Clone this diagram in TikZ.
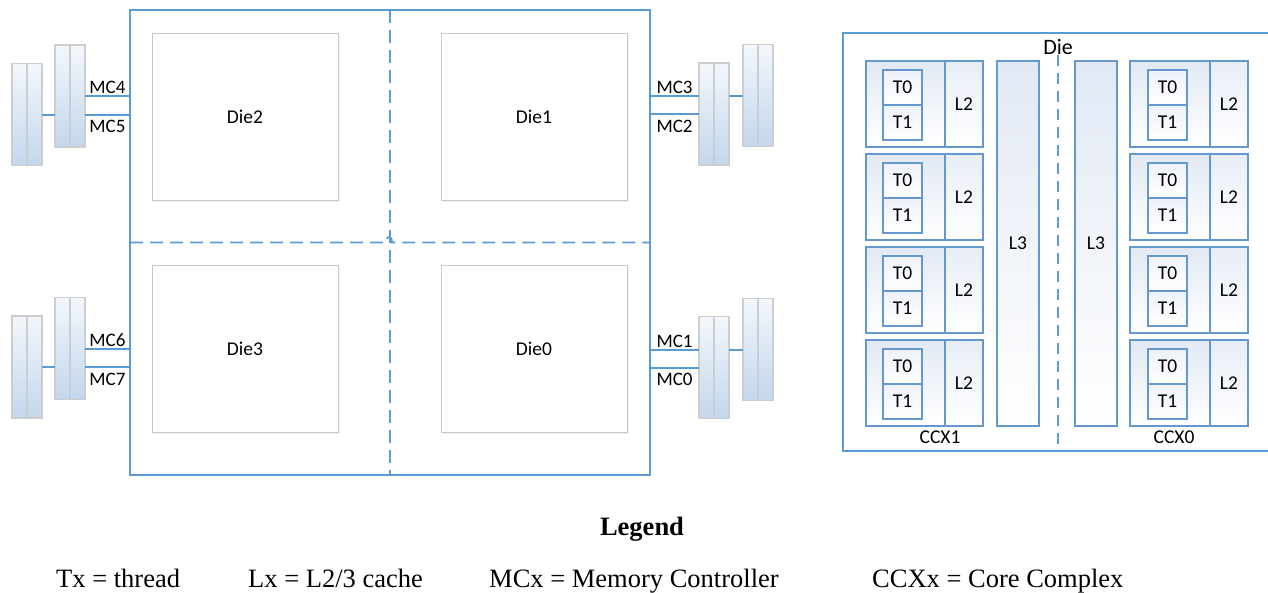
\documentclass[tikz,border=0pt]{standalone}
\usepackage{fontspec}
\setmainfont{Liberation Serif}
\newfontfamily\labelfont{Carlito}
\usetikzlibrary{positioning,shadows}

\definecolor{pkgblue}{RGB}{91,155,213}
\definecolor{dimmtop}{RGB}{243,247,252}
\definecolor{dimmbot}{RGB}{194,215,237}
\definecolor{dimmedge}{RGB}{205,205,205}
\definecolor{dieedge}{RGB}{200,200,200}
\definecolor{coretop}{RGB}{226,233,244}
\definecolor{coreedge}{RGB}{100,152,206}

\begin{document}
\begin{tikzpicture}[x=1pt,y=-1pt]

\tikzset{
  pkgbox/.style={draw=pkgblue,line width=1.6pt,inner sep=0,outer sep=0},
  dashline/.style={draw=pkgblue,line width=1.8pt,dash pattern=on 13pt off 7pt},
  mcline/.style={draw=pkgblue,line width=2pt},
  mclabel/.style={font=\labelfont\fontsize{19}{22}\selectfont,inner sep=1pt},
  diebox/.style={draw=dieedge,fill=white,line width=0.8pt,minimum width=186pt,minimum height=167pt,
    drop shadow={opacity=0.12,shadow xshift=1.5pt,shadow yshift=-1.5pt},
    font=\labelfont\fontsize{19.5}{22}\selectfont},
  dimm/.style={draw=dimmedge,line width=1.4pt,top color=dimmtop,bottom color=dimmbot,
    minimum width=30pt,minimum height=102pt,inner sep=0,outer sep=0,
    path picture={\draw[dimmedge,line width=1.4pt] (path picture bounding box.north) -- (path picture bounding box.south);}},
  cellfont/.style={font=\labelfont\fontsize{19.5}{22}\selectfont},
  corebox/.style={draw=coreedge,line width=1.2pt,top color=coretop,bottom color=white,
    minimum height=86pt,inner sep=0,outer sep=0},
  ltwobox/.style={corebox,cellfont,minimum width=38pt,top color=coretop!80},
  tbox/.style={draw=coreedge,line width=1.2pt,top color=coretop!60,bottom color=white,
    minimum width=39pt,minimum height=35pt,inner sep=0,outer sep=0,cellfont},
  lthreebox/.style={corebox,cellfont,minimum width=42pt,minimum height=365pt},
  legendtext/.style={font=\fontsize{26.5}{30}\selectfont,inner sep=0}
}

\useasboundingbox (0,0) rectangle (1268,592);

%% Package with four dies
\node[pkgbox,minimum width=520pt,minimum height=465pt] (pkg) at (390,242.5) {};
\draw[dashline] (pkg.north) -- (pkg.south);
\draw[dashline] (pkg.west) -- (386,242.5) .. controls (386,235) and (392,235) .. (392,242.5) -- (pkg.east);

\node[diebox] (die2) at (245,116.5) {Die2};
\node[diebox] (die1) at (534,116.5) {Die1};
\node[diebox] (die3) at (245,348.5) {Die3};
\node[diebox] (die0) at (534,348.5) {Die0};

%% DIMMs
\node[dimm] (dimm45o) at (27,114.5) {};
\node[dimm] (dimm45i) at (70,96) {};
\node[dimm] (dimm23i) at (714,114) {};
\node[dimm] (dimm23o) at (758,95.5) {};
\node[dimm] (dimm67o) at (27,367) {};
\node[dimm] (dimm67i) at (70,348.5) {};
\node[dimm] (dimm01i) at (714,367.5) {};
\node[dimm] (dimm01o) at (758,349.5) {};

%% Memory controllers
\draw[mcline] (dimm45o.east) -- (dimm45o.east -| dimm45i.west);
\draw[mcline] (dimm45i.east) -- node[mclabel,above] {MC4} (dimm45i.east -| pkg.west);
\draw[mcline] (dimm45o.east -| dimm45i.east) -- node[mclabel,below=4pt] {MC5} (dimm45o.east -| pkg.west);

\draw[mcline] (dimm23i.east |- dimm23o.west) -- (dimm23o.west);
\draw[mcline] (pkg.east |- dimm23o.west) -- node[mclabel,above] {MC3} (dimm23i.west |- dimm23o.west);
\draw[mcline] (pkg.east |- dimm23i.west) -- node[mclabel,below=4pt] {MC2} (dimm23i.west);

\draw[mcline] (dimm67o.east) -- (dimm67o.east -| dimm67i.west);
\draw[mcline] (dimm67i.east) -- node[mclabel,above] {MC6} (dimm67i.east -| pkg.west);
\draw[mcline] (dimm67o.east -| dimm67i.east) -- node[mclabel,below=4pt] {MC7} (dimm67o.east -| pkg.west);

\draw[mcline] (dimm01i.east |- dimm01o.west) -- (dimm01o.west);
\draw[mcline] (pkg.east |- dimm01o.west) -- node[mclabel,above] {MC1} (dimm01i.west |- dimm01o.west);
\draw[mcline] (pkg.east |- dimm01i.west) -- node[mclabel,below=4pt] {MC0} (dimm01i.west);

%% One die in detail
\node[pkgbox,line width=1.2pt,minimum width=430pt,minimum height=418pt] (dier) at (1058,242) {};
\node[cellfont,font=\labelfont\fontsize{22}{24}\selectfont,inner sep=0,below=6pt of dier.north] (dierlabel) {Die};
\draw[dashline,line width=1.5pt,dash pattern=on 11pt off 7pt] (dierlabel.south) -- (dier.south);

\foreach \r/\y in {1/104,2/197,3/290,4/383}{
    \node[corebox,minimum width=79pt] (cxonecore\r) at (905.5,\y) {};
    \node[ltwobox,right=0pt of cxonecore\r] (cxonel\r) {L2};
    \node[tbox,anchor=south,xshift=-3pt,yshift=-1pt] (cxonetz\r) at (cxonecore\r.center) {T0};
    \node[tbox,below=0pt of cxonetz\r] (cxoneto\r) {T1};

    \node[corebox,minimum width=80pt] (cxzerocore\r) at (1170,\y) {};
    \node[ltwobox,right=0pt of cxzerocore\r] (cxzerol\r) {L2};
    \node[tbox,anchor=south,xshift=-2.5pt,yshift=-1pt] (cxzerotz\r) at (cxzerocore\r.center) {T0};
    \node[tbox,below=0pt of cxzerotz\r] (cxzeroto\r) {T1};
}

\node[lthreebox] (lthreea) at (1018,243.5) {L3};
\node[lthreebox] (lthreeb) at (1096,243.5) {L3};

\node[cellfont] (ccxone) at (940,437) {CCX1};
\node[cellfont] (ccxzero) at (1174,437) {CCX0};

%% Legend
\node[legendtext,font=\bfseries\fontsize{26.5}{30}\selectfont,anchor=base] (legend) at (642,535) {Legend};
\node[legendtext,anchor=base west] (lgthread) at (56,587) {Tx = thread};
\node[legendtext,anchor=base west] (lgcache) at (248,587) {Lx = L2/3 cache};
\node[legendtext,anchor=base west] (lgmc) at (489,587) {MCx = Memory Controller};
\node[legendtext,anchor=base west] (lgccx) at (872,587) {CCXx = Core Complex};

\end{tikzpicture}
\end{document}
